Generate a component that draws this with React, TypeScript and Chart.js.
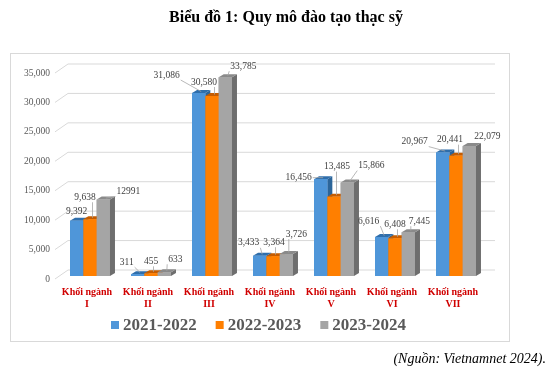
import React, { useEffect, useRef } from "react";
import { Chart, registerables } from "chart.js";

Chart.register(...registerables);

const categoryLines: string[][] = [
  ["Khối ngành", "I"],
  ["Khối ngành", "II"],
  ["Khối ngành", "III"],
  ["Khối ngành", "IV"],
  ["Khối ngành", "V"],
  ["Khối ngành", "VI"],
  ["Khối ngành", "VII"],
];
const seriesNames = ["2021-2022", "2022-2023", "2023-2024"];
const values2021 = [9392, 311, 31086, 3433, 16456, 6616, 20967];
const values2022 = [9638, 455, 30580, 3364, 13485, 6408, 20441];
const values2023 = [12991, 633, 33785, 3726, 15866, 7445, 22079];
const yTicks = [0, 5000, 10000, 15000, 20000, 25000, 30000, 35000];
// labels shown without thousands separator in the source picture
const plainLabels: [number, number][] = [[2, 0]];

const titleText = "Biểu đồ 1: Quy mô đào tạo thạc sỹ";
const sourceText = "(Nguồn: Vietnamnet 2024).";

// styling
const frontColors = ["#4f96d9", "#ff7f00", "#a5a5a5"];
const topColors = ["#2f6eab", "#c55c00", "#8a8a8a"];
const sideColors = ["#2c6599", "#b35200", "#6e6e6e"];
// label offsets (dx, dy) relative to bar top centre
const labelOffsets: [number, number][][] = [
  [[0, -9], [-11, -12], [-32, -18], [-11, -13], [-22, -2], [-13, -16], [-28, -11]],
  [[-5, -22], [0, -12], [-8, -14], [1, -14], [3, -30], [0, -14], [-6, -16]],
  [[25, -8], [11, -13], [18, -11], [10, -20], [24, -17], [11, -11], [18, -10]],
];

const SERIF = '"Liberation Serif", "Times New Roman", serif';
const DEPTH = { x: 5, y: -3 }; // bar depth
const FRONT = { x: -4.5, y: 3 }; // front plane relative to bar plane
const BACK = { x: 8.5, y: -6 }; // back wall relative to bar plane

function fmt(v: number, s: number, i: number) {
  if (plainLabels.some(([a, b]) => a === s && b === i)) return String(v);
  return v.toLocaleString("en-US");
}

const decorPlugin = {
  id: "decor",
  beforeDatasetsDraw(chart: any) {
    const ctx = chart.ctx as CanvasRenderingContext2D;
    const { left, right } = chart.chartArea;
    const ys = chart.scales.y;
    ctx.save();
    // box
    ctx.strokeStyle = "#d9d9d9";
    ctx.lineWidth = 1;
    ctx.strokeRect(10.5, 53.5, 499, 288);
    // gridlines
    ctx.strokeStyle = "#d9d9d9";
    ctx.lineWidth = 1;
    for (const t of yTicks) {
      const py = ys.getPixelForValue(t);
      ctx.beginPath();
      ctx.moveTo(left + FRONT.x, py + FRONT.y);
      ctx.lineTo(left + BACK.x, py + BACK.y);
      ctx.lineTo(right + BACK.x, py + BACK.y);
      ctx.stroke();
    }
    // tick labels
    ctx.fillStyle = "#595959";
    ctx.font = `9.5px ${SERIF}`;
    ctx.textAlign = "right";
    ctx.textBaseline = "middle";
    for (const t of yTicks) {
      const py = ys.getPixelForValue(t);
      ctx.fillText(t.toLocaleString("en-US"), left + FRONT.x - 5, py + FRONT.y);
    }
    // category labels
    const xs = chart.scales.x;
    ctx.fillStyle = "#d00000";
    ctx.font = `bold 10px ${SERIF}`;
    ctx.textAlign = "center";
    categoryLines.forEach((lines, i) => {
      const cx = xs.getPixelForValue(i) - 3;
      lines.forEach((ln, k) => ctx.fillText(ln, cx, 292 + k * 12));
    });
    // title
    ctx.fillStyle = "#000";
    ctx.font = `bold 16px ${SERIF}`;
    ctx.fillText(titleText, 286, 18);
    // source
    ctx.font = `italic 14px ${SERIF}`;
    ctx.textAlign = "right";
    ctx.fillText(sourceText, 546, 359);
    // legend
    ctx.font = `bold 17px ${SERIF}`;
    ctx.textAlign = "left";
    let lx = 111;
    chart.data.datasets.forEach((ds: any) => {
      ctx.fillStyle = ds.backgroundColor;
      ctx.fillRect(lx, 321, 8, 8);
      ctx.fillStyle = "#595959";
      ctx.fillText(ds.label, lx + 12, 326);
      lx += 12 + ctx.measureText(ds.label).width + 19;
    });
    ctx.restore();
  },
  afterDatasetsDraw(chart: any) {
    const ctx = chart.ctx as CanvasRenderingContext2D;
    const n = chart.data.labels.length;
    const nd = chart.data.datasets.length;
    ctx.save();
    for (let i = 0; i < n; i++) {
      for (let s = 0; s < nd; s++) {
        const el: any = chart.getDatasetMeta(s).data[i];
        const { x, y, base, width } = el.getProps(["x", "y", "base", "width"], true);
        const l = x - width / 2;
        const r = x + width / 2;
        // side
        ctx.fillStyle = sideColors[s];
        ctx.beginPath();
        ctx.moveTo(r, y);
        ctx.lineTo(r + DEPTH.x, y + DEPTH.y);
        ctx.lineTo(r + DEPTH.x, base + DEPTH.y);
        ctx.lineTo(r, base);
        ctx.closePath();
        ctx.fill();
        // top
        ctx.fillStyle = topColors[s];
        ctx.beginPath();
        ctx.moveTo(l, y);
        ctx.lineTo(r, y);
        ctx.lineTo(r + DEPTH.x, y + DEPTH.y);
        ctx.lineTo(l + DEPTH.x, y + DEPTH.y);
        ctx.closePath();
        ctx.fill();
        // front
        ctx.fillStyle = frontColors[s];
        ctx.fillRect(l, y, width, base - y);
      }
    }
    // data labels with leader lines
    ctx.font = `9.5px ${SERIF}`;
    ctx.textAlign = "center";
    ctx.textBaseline = "middle";
    for (let s = 0; s < nd; s++) {
      const vals = chart.data.datasets[s].data;
      for (let i = 0; i < n; i++) {
        const el: any = chart.getDatasetMeta(s).data[i];
        const { x, y } = el.getProps(["x", "y"], true);
        const [dx, dy] = labelOffsets[s][i];
        const txt = fmt(vals[i], s, i);
        const lx = x + dx;
        const ly = y + dy;
        const w = ctx.measureText(txt).width;
        const ax = x + DEPTH.x / 2;
        const ay = y + DEPTH.y / 2;
        const rx0 = lx - w / 2 - 1, rx1 = lx + w / 2 + 1;
        const ry0 = ly - 5, ry1 = ly + 5;
        const nx = Math.max(rx0, Math.min(ax, rx1));
        const ny = Math.max(ry0, Math.min(ay, ry1));
        const dist = Math.hypot(nx - ax, ny - ay);
        if (dist > 4) {
          ctx.strokeStyle = "#a6a6a6";
          ctx.lineWidth = 0.8;
          ctx.beginPath();
          ctx.moveTo(nx, ny);
          ctx.lineTo(ax, ay);
          ctx.stroke();
        }
        ctx.fillStyle = "#404040";
        ctx.fillText(txt, lx, ly);
      }
    }
    ctx.restore();
  },
};

export default function App() {
  const ref = useRef<HTMLCanvasElement>(null);
  useEffect(() => {
    if (!ref.current) return;
    const chart = new Chart(ref.current, {
      type: "bar",
      data: {
        labels: categoryLines.map((l) => l.join(" ")),
        datasets: [values2021, values2022, values2023].map((d, s) => ({
          label: seriesNames[s],
          data: d,
          backgroundColor: frontColors[s],
          borderWidth: 0,
          categoryPercentage: 0.655,
          barPercentage: 1,
        })),
      },
      options: {
        responsive: false,
        animation: false,
        devicePixelRatio: 1,
        layout: { padding: { left: 59.5, right: 65.5, top: 70, bottom: 106 } },
        scales: {
          x: { display: false, offset: true },
          y: { display: false, min: 0, max: 35000 },
        },
        plugins: { legend: { display: false }, tooltip: { enabled: false } },
      },
      plugins: [decorPlugin],
    });
    return () => chart.destroy();
  }, []);
  return (
    <div style={{ position: "absolute", left: 0, top: 0, width: 552, height: 382, background: "#fff" }}>
      <canvas ref={ref} width={552} height={382} style={{ display: "block" }} />
    </div>
  );
}
